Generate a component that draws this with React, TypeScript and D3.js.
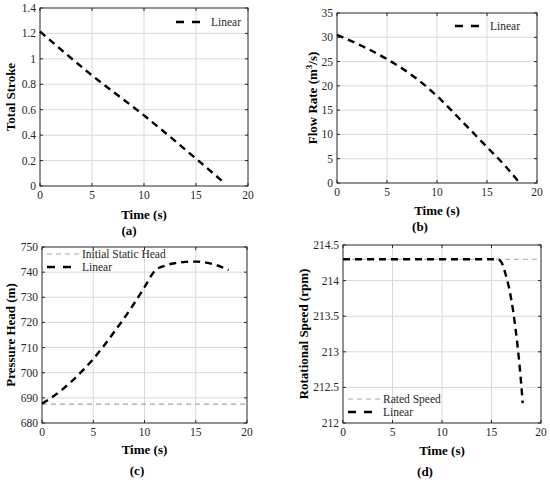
import { useEffect, useRef } from 'react'
import * as d3 from 'd3'

// time axis shared by all four panels
const timeTicks = [0, 5, 10, 15, 20]

// (a) total stroke
const strokeTime = [0, 5, 10, 15, 17.5]
const strokeValue = [1.215, 0.87, 0.555, 0.215, 0.04]

// (b) flow rate
const flowTime = [0, 2.5, 5, 7.5, 10, 12.5, 15, 17, 18.15]
const flowValue = [30.5, 28.2, 25.5, 22.2, 17.9, 12.7, 7.4, 3.1, 0.3]

// (c) pressure head
const headTime = [0, 1, 2, 3, 4, 5, 6, 7, 8, 9, 10, 11, 12, 13, 14, 15, 16, 17, 18.2]
const headValue = [687.7, 690.3, 693.4, 697, 701, 705.5, 710.5, 716, 721.6, 727.6, 734, 740.5, 742.6, 743.6, 744.1, 744.2, 743.8, 742.8, 740.8]
const staticHead = 687.5

// (d) rotational speed
const speedTime = [0, 15.6, 16.0, 16.4, 16.8, 17.2, 17.6, 18.0, 18.15]
const speedValue = [214.3, 214.3, 214.26, 214.1, 213.88, 213.56, 213.12, 212.55, 212.28]
const ratedSpeed = 214.3

interface PanelSpec {
  x0: number
  x1: number
  y0: number
  y1: number
  yDomain: [number, number]
  yStep: number
  yLabel: string
  yLabelX: number
  timeLabelY: number
  caption: string
  captionX: number
  captionY: number
  times: number[]
  values: number[]
  refValue?: number
  legend: { x: number; y: number; items: { name: string; ref: boolean }[] }
}

const FONT = 'Liberation Serif, Times New Roman, serif'

export default function App() {
  const svgRef = useRef<SVGSVGElement>(null)

  useEffect(() => {
    document.body.style.margin = '0'
    if (!svgRef.current) return
    const svg = d3.select(svgRef.current)
    svg.selectAll('*').remove()

    const panels: PanelSpec[] = [
      {
        x0: 40, x1: 248, y0: 8, y1: 186, yDomain: [0, 1.4], yStep: 0.2,
        yLabel: 'Total Stroke', yLabelX: 10, timeLabelY: 219,
        caption: '(a)', captionX: 129, captionY: 235,
        times: strokeTime, values: strokeValue,
        legend: { x: 176, y: 22, items: [{ name: 'Linear', ref: false }] },
      },
      {
        x0: 337, x1: 537, y0: 13, y1: 183, yDomain: [0, 35], yStep: 5,
        yLabel: 'Flow Rate (m3/s)', yLabelX: 312, timeLabelY: 215,
        caption: '(b)', captionX: 420, captionY: 231,
        times: flowTime, values: flowValue,
        legend: { x: 455, y: 26, items: [{ name: 'Linear', ref: false }] },
      },
      {
        x0: 42, x1: 247, y0: 247, y1: 423, yDomain: [680, 750], yStep: 10,
        yLabel: 'Pressure Head (m)', yLabelX: 10, timeLabelY: 454,
        caption: '(c)', captionX: 137, captionY: 475,
        times: headTime, values: headValue, refValue: staticHead,
        legend: {
          x: 47, y: 254,
          items: [{ name: 'Initial Static Head', ref: true }, { name: 'Linear', ref: false }],
        },
      },
      {
        x0: 343, x1: 541, y0: 245, y1: 423, yDomain: [212, 214.5], yStep: 0.5,
        yLabel: 'Rotational Speed (rpm)', yLabelX: 303, timeLabelY: 455,
        caption: '(d)', captionX: 425, captionY: 476,
        times: speedTime, values: speedValue, refValue: ratedSpeed,
        legend: {
          x: 348, y: 399,
          items: [{ name: 'Rated Speed', ref: true }, { name: 'Linear', ref: false }],
        },
      },
    ]

    panels.forEach(p => {
      const g = svg.append('g').attr('font-family', FONT)
      const x = d3.scaleLinear().domain([0, 20]).range([p.x0, p.x1])
      const y = d3.scaleLinear().domain(p.yDomain).range([p.y1, p.y0])
      const yTicks = d3.range(p.yDomain[0], p.yDomain[1] + p.yStep / 2, p.yStep)

      // grid
      g.selectAll('.gx').data(timeTicks.slice(1, -1)).enter().append('line')
        .attr('x1', d => x(d)).attr('x2', d => x(d))
        .attr('y1', p.y0).attr('y2', p.y1)
        .attr('stroke', '#d9d9d9').attr('stroke-width', 1)
      g.selectAll('.gy').data(yTicks.slice(1, -1)).enter().append('line')
        .attr('x1', p.x0).attr('x2', p.x1)
        .attr('y1', d => y(d)).attr('y2', d => y(d))
        .attr('stroke', '#d9d9d9').attr('stroke-width', 1)

      // reference line
      if (p.refValue !== undefined) {
        g.append('line')
          .attr('x1', p.x0).attr('x2', p.x1)
          .attr('y1', y(p.refValue)).attr('y2', y(p.refValue))
          .attr('stroke', '#a6a6a6').attr('stroke-width', 1.2)
          .attr('stroke-dasharray', '5,4')
      }

      // data line
      const line = d3.line<number>()
        .x((_, i) => x(p.times[i]))
        .y(d => y(d))
        .curve(d3.curveMonotoneX)
      g.append('path')
        .datum(p.values)
        .attr('d', line)
        .attr('fill', 'none')
        .attr('stroke', '#000')
        .attr('stroke-width', 2.4)
        .attr('stroke-dasharray', '7,5')

      // box
      g.append('rect')
        .attr('x', p.x0).attr('y', p.y0)
        .attr('width', p.x1 - p.x0).attr('height', p.y1 - p.y0)
        .attr('fill', 'none').attr('stroke', '#262626').attr('stroke-width', 1)

      // ticks inward on all sides
      timeTicks.forEach(t => {
        g.append('line').attr('x1', x(t)).attr('x2', x(t)).attr('y1', p.y1).attr('y2', p.y1 - 3).attr('stroke', '#262626')
        g.append('line').attr('x1', x(t)).attr('x2', x(t)).attr('y1', p.y0).attr('y2', p.y0 + 3).attr('stroke', '#262626')
        g.append('text')
          .attr('x', x(t)).attr('y', p.y1 + 13)
          .attr('text-anchor', 'middle')
          .attr('font-size', 11.5).attr('fill', '#262626')
          .text(t)
      })
      yTicks.forEach(v => {
        g.append('line').attr('x1', p.x0).attr('x2', p.x0 + 3).attr('y1', y(v)).attr('y2', y(v)).attr('stroke', '#262626')
        g.append('line').attr('x1', p.x1).attr('x2', p.x1 - 3).attr('y1', y(v)).attr('y2', y(v)).attr('stroke', '#262626')
        g.append('text')
          .attr('x', p.x0 - 4).attr('y', y(v) + 4)
          .attr('text-anchor', 'end')
          .attr('font-size', 11.5).attr('fill', '#262626')
          .text(d3.format('~g')(+v.toFixed(2)))
      })

      // axis labels
      g.append('text')
        .attr('x', (p.x0 + p.x1) / 2).attr('y', p.timeLabelY)
        .attr('text-anchor', 'middle')
        .attr('font-size', 13).attr('font-weight', 'bold')
        .text('Time (s)')

      const yl = g.append('text')
        .attr('transform', `translate(${p.yLabelX + 5},${(p.y0 + p.y1) / 2}) rotate(-90)`)
        .attr('text-anchor', 'middle')
        .attr('font-size', 13).attr('font-weight', 'bold')
      if (p.yLabel === 'Flow Rate (m3/s)') {
        yl.append('tspan').text('Flow Rate (m')
        yl.append('tspan').attr('dy', -5).attr('font-size', 9).text('3')
        yl.append('tspan').attr('dy', 5).text('/s)')
      } else {
        yl.text(p.yLabel)
      }

      g.append('text')
        .attr('x', p.captionX).attr('y', p.captionY)
        .attr('text-anchor', 'middle')
        .attr('font-size', 13).attr('font-weight', 'bold')
        .text(p.caption)

      // legend
      p.legend.items.forEach((it, i) => {
        const ly = p.legend.y + i * 13
        g.append('line')
          .attr('x1', p.legend.x).attr('x2', p.legend.x + 32)
          .attr('y1', ly).attr('y2', ly)
          .attr('stroke', it.ref ? '#a6a6a6' : '#000')
          .attr('stroke-width', it.ref ? 1.2 : 2.4)
          .attr('stroke-dasharray', it.ref ? '5,4' : '8,8')
        g.append('text')
          .attr('x', p.legend.x + 35).attr('y', ly + 4)
          .attr('font-size', 11.5).attr('fill', '#262626')
          .text(it.name)
      })
    })
  }, [])

  return <svg ref={svgRef} width={550} height={482} style={{ display: 'block', background: '#fff' }} />
}
